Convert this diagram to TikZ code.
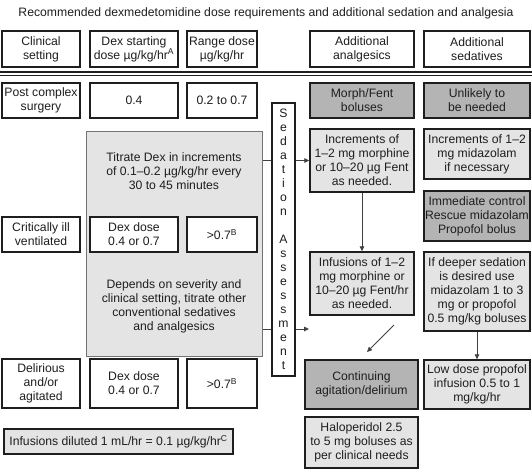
\documentclass[tikz,border=0pt]{standalone}
\usepackage{fontspec}
\setmainfont{Liberation Sans}
\usetikzlibrary{arrows.meta}
\definecolor{lightfill}{HTML}{E4E4E4}
\definecolor{darkfill}{HTML}{B4B4B4}
\definecolor{ink}{HTML}{1E1E1E}
\newcommand\bx[7]{\node[#6, minimum width={(#4)-(#2)}, minimum height={(#5)-(#3)}] (#1) at ({((#2)+(#4))/2},{((#3)+(#5))/2}) {#7};}
\begin{document}
\begin{tikzpicture}[x=1pt,y=-1pt,
  every node/.style={font=\fontsize{12.2}{14}\selectfont, text=ink, align=center, inner sep=1pt},
  plain/.style={draw=ink, line width=1.4pt, fill=white},
  light/.style={draw=ink, line width=1.4pt, fill=lightfill},
  dark/.style={draw=ink, line width=1.4pt, fill=darkfill},
  bigbox/.style={draw=black!55, line width=1pt, fill=lightfill},
  conn/.style={draw=black!75, line width=0.8pt},
  arr/.style={conn, -{Triangle[length=5pt,width=4.5pt]}}]
\useasboundingbox (0,0) rectangle (532,469);
\node (title) at (266,13) {Recommended dexmedetomidine dose requirements and additional sedation and analgesia};
% header
\bx{hA}{2}{31}{80}{67}{plain}{Clinical\\setting}
\bx{hB}{90}{31}{178}{67}{plain}{Dex starting\\dose µg/kg/hr\textsuperscript{A}}
\bx{hC}{187}{31}{257}{67}{plain}{Range dose\\µg/kg/hr}
\bx{hD}{310}{31}{414}{67}{plain}{Additional\\analgesics}
\bx{hE}{424}{31}{530}{67}{plain}{Additional\\sedatives}
\draw[draw=ink, line width=1.3pt] (0,72) -- (532,72);
\draw[draw=ink, line width=1.3pt] (0,75.5) -- (532,75.5);
% row 1
\bx{rA}{2}{83}{80}{118}{plain}{Post complex\\surgery}
\bx{rB}{90}{83}{178}{118}{plain}{0.4}
\bx{rC}{187}{83}{257}{118}{plain}{0.2 to 0.7}
\bx{morph}{310}{83}{414}{118}{dark}{Morph/Fent\\boluses}
\bx{unl}{424}{83}{530}{118}{dark}{Unlikely to\\be needed}
% big box
\bx{big}{86}{131}{262}{356}{bigbox}{}
\node (titr) at (174,171) {Titrate Dex in increments\\of 0.1–0.2 µg/kg/hr every\\30 to 45 minutes};
\node (dep) at (174,306) {Depends on severity and\\clinical setting, titrate other\\conventional sedatives\\and analgesics};
% row 2
\bx{cA}{2}{217}{80}{252}{plain}{Critically ill\\ventilated}
\bx{cB}{90}{217}{178}{252}{plain}{Dex dose\\0.4 or 0.7}
\bx{cC}{187}{217}{257}{252}{plain}{>0.7\textsuperscript{B}}
% row 3
\bx{dA}{2}{359}{80}{408}{plain}{Delirious\\and/or\\agitated}
\bx{dB}{90}{359}{178}{408}{plain}{Dex dose\\0.4 or 0.7}
\bx{dC}{187}{359}{257}{408}{plain}{>0.7\textsuperscript{B}}
\bx{dil}{4}{429}{233}{454}{light}{Infusions diluted 1 mL/hr = 0.1 µg/kg/hr\textsuperscript{C}}
% sedation assessment column
\bx{sed}{272}{103}{295}{376}{plain}{S\\e\\d\\a\\t\\i\\o\\n\\\mbox{}\\A\\s\\s\\e\\s\\s\\m\\e\\n\\t}
% analgesics column
\bx{inc}{310}{129}{414}{192}{light}{Increments of\\1–2 mg morphine\\or 10–20 µg Fent\\as needed.}
\bx{inf}{310}{252}{414}{315}{light}{Infusions of 1–2\\mg morphine or\\10–20 µg Fent/hr\\as needed.}
\bx{cont}{305}{360}{418}{409}{dark}{Continuing\\agitation/delirium}
\bx{halo}{305}{417}{418}{468}{light}{Haloperidol 2.5\\to 5 mg boluses as\\per clinical needs}
% sedatives column
\bx{sinc}{424}{129}{530}{179}{light}{Increments of 1–2\\mg midazolam\\if necessary}
\bx{imm}{424}{191}{530}{241}{dark}{Immediate control\\Rescue midazolam\\Propofol bolus}
\bx{deep}{424}{252}{530}{331}{light}{If deeper sedation\\is desired use\\midazolam 1 to 3\\mg or propofol\\0.5 mg/kg boluses}
\bx{low}{424}{360}{530}{409}{light}{Low dose propofol\\infusion 0.5 to 1\\mg/kg/hr}
% connectors
\draw[conn] (inc.west -| big.east) -- (inc.west -| sed.west);
\draw[arr] (inc.west -| sed.east) -- (inc.west);
\coordinate (lowend) at (309,329);
\draw[conn] (lowend -| big.east) -- (lowend -| sed.west);
\draw[arr] (lowend -| sed.east) -- (lowend);
\draw[arr] (inc.south) -- (inf.north);
\coordinate (diagA) at (394,325);
\coordinate (diagB) at (367,352);
\draw[arr] (diagA) -- (diagB);
\draw[arr] (deep.south) -- (low.north);
\end{tikzpicture}
\end{document}
